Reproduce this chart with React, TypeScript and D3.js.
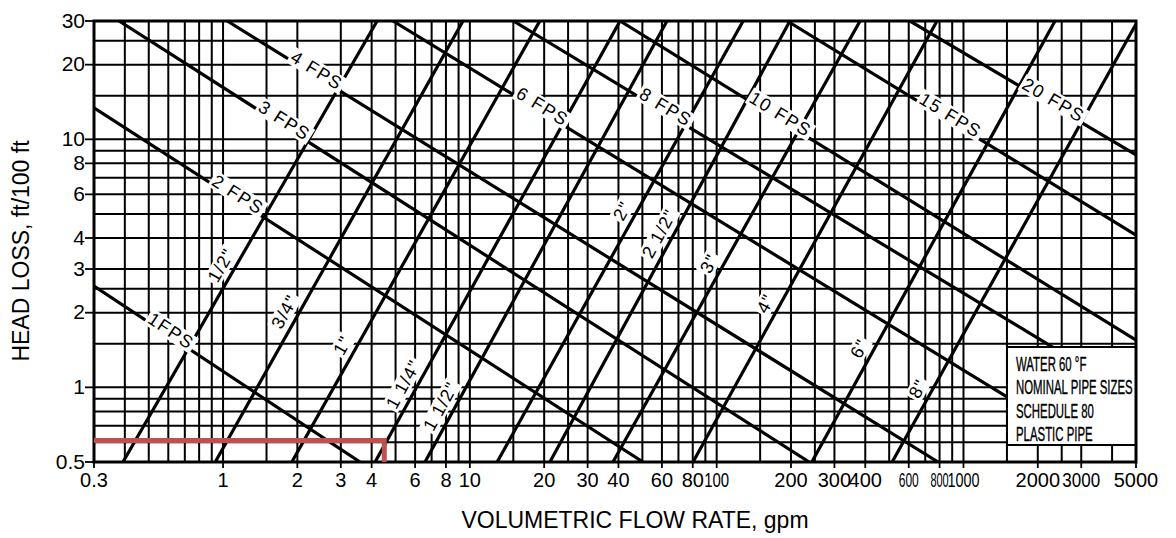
import React, { useEffect, useRef } from "react";
import * as d3 from "d3";

const W = 1176;
const H = 538;

// pipe size lines: [flow gpm, head ft/100ft] at the two ends
const pipeSizes = ['1/2"', '3/4"', '1"', '1 1/4"', '1 1/2"', '2"', '2 1/2"', '3"', '4"', '6"', '8"'];
const pipeLow = [[0.393, 0.5], [0.93, 0.5], [1.9, 0.5], [4.13, 0.5], [6.58, 0.5], [12.9, 0.5], [21.1, 0.5], [38, 0.5], [80.2, 0.5], [243, 0.5], [514, 0.5]];
const pipeHigh = [[4.21, 30], [9.38, 30], [19.2, 30], [40.6, 30], [62.9, 30], [128, 30], [198, 30], [381, 30], [781, 30], [2349, 30], [5000, 29.2]];
const pipeLabelHead = [2.92, 1.9, 1.39, 0.97, 0.79, 4.85, 3.93, 2.97, 2.05, 1.35, 0.93];

// velocity lines
const fpsNames = ["1FPS", "2 FPS", "3 FPS", "4 FPS", "6 FPS", "8 FPS", "10 FPS", "15 FPS", "20 FPS"];
const fpsStart = [[0.3, 2.56], [0.3, 13.4], [0.379, 30], [1.04, 30], [4.88, 30], [15, 30], [40.6, 30], [193, 30], [607, 30]];
const fpsEnd = [[3.59, 0.5], [50.3, 0.5], [237, 0.5], [789, 0.5], [1501, 0.915], [2306, 1.45], [5000, 1.55], [5000, 4.11], [5000, 8.65]];
const fpsLabelFlow = [0.6, 1.12, 1.73, 2.34, 19.2, 60.7, 177, 865, 2263];

const gridFlows = [0.4, 0.5, 0.6, 0.7, 0.8, 0.9, 1, 1.5, 2, 3, 4, 5, 6, 7, 8, 9, 10, 15, 20, 25, 30, 40, 50, 60, 70, 80, 90, 100, 150, 200, 250, 300, 400, 500, 600, 700, 800, 900, 1000, 1500, 2000, 2500, 3000, 4000];
const gridHeads = [0.6, 0.7, 0.8, 0.9, 1, 1.5, 2, 2.5, 3, 4, 5, 6, 7, 8, 9, 10, 15, 20, 25];
const flowTicks = ["0.3", "1", "2", "3", "4", "6", "8", "10", "20", "30", "40", "60", "80", "100", "200", "300", "400", "600", "800", "1000", "2000", "3000", "5000"];
const headTicks = ["0.5", "1", "2", "3", "4", "6", "8", "10", "20", "30"];

const noteLines = ["WATER 60 °F", "NOMINAL PIPE SIZES", "SCHEDULE 80", "PLASTIC PIPE"];
const markFlow = 4.5;
const markHead = 0.61;

const squeeze: Record<string, number> = { "100": 0.75, "600": 0.6, "800": 0.55, "1000": 0.72, "3000": 0.85 };
const FONT = "'Liberation Sans', Arial, sans-serif";

export default function App() {
  const ref = useRef<SVGSVGElement>(null);

  useEffect(() => {
    const svg = d3.select(ref.current);
    svg.selectAll("*").remove();

    const x = d3.scaleLog().domain([0.3, 5000]).range([94, 1136]);
    const y = d3.scaleLog().domain([0.5, 30]).range([462, 21]);
    const [x0, x1] = x.range();
    const [yb, yt] = y.range();

    svg.append("rect").attr("width", W).attr("height", H).attr("fill", "#fff");
    svg.append("defs").append("clipPath").attr("id", "plot")
      .append("rect").attr("x", x0).attr("y", yt).attr("width", x1 - x0).attr("height", yb - yt);

    // grid
    const grid = svg.append("g").attr("stroke", "#000").attr("stroke-width", 2);
    grid.selectAll("line.v").data(gridFlows).join("line").attr("class", "v")
      .attr("x1", d => x(d)).attr("x2", d => x(d)).attr("y1", yt).attr("y2", yb);
    grid.selectAll("line.h").data(gridHeads).join("line").attr("class", "h")
      .attr("y1", d => y(d)).attr("y2", d => y(d)).attr("x1", x0).attr("x2", x1);

    // diagonal lines
    const line = d3.line<number[]>().x(d => x(d[0])).y(d => y(d[1]));
    const diag = svg.append("g").attr("clip-path", "url(#plot)")
      .attr("stroke", "#000").attr("stroke-width", 3.2).attr("fill", "none");
    pipeSizes.forEach((_, i) => diag.append("path").attr("d", line([pipeLow[i], pipeHigh[i]])));
    fpsNames.forEach((_, i) => diag.append("path").attr("d", line([fpsStart[i], fpsEnd[i]])));

    // labels on lines
    const labels = svg.append("g").attr("font-family", FONT).attr("fill", "#000");
    const place = (text: string, px: number, py: number, ang: number, off: number, size: number, ls: number) => {
      const a = (ang * Math.PI) / 180;
      const cx = px + off * Math.sin(a);
      const cy = py - off * Math.cos(a);
      const g = labels.append("g").attr("transform", `translate(${cx},${cy}) rotate(${ang})`);
      const r = g.append("rect").attr("fill", "#fff");
      const t = g.append("text").attr("text-anchor", "middle").attr("dominant-baseline", "central")
        .attr("font-size", size).attr("letter-spacing", ls).text(text);
      const bb = (t.node() as SVGTextElement).getBBox();
      r.attr("x", bb.x - 2).attr("y", bb.y + 1).attr("width", bb.width + 4).attr("height", bb.height - 2);
    };
    const lg = Math.log10;
    fpsNames.forEach((name, i) => {
      const [q1, h1] = fpsStart[i];
      const [q2, h2] = fpsEnd[i];
      const q = fpsLabelFlow[i];
      const h = Math.pow(10, lg(h1) + ((lg(q) - lg(q1)) * (lg(h2) - lg(h1))) / (lg(q2) - lg(q1)));
      const ang = (Math.atan2(y(h2) - y(h1), x(q2) - x(q1)) * 180) / Math.PI;
      place(name, x(q), y(h), ang, 5, 18, 1.5);
    });
    pipeSizes.forEach((name, i) => {
      const [q1, h1] = pipeLow[i];
      const [q2, h2] = pipeHigh[i];
      const h = pipeLabelHead[i];
      const q = Math.pow(10, lg(q1) + ((lg(h) - lg(h1)) * (lg(q2) - lg(q1))) / (lg(h2) - lg(h1)));
      const ang = (Math.atan2(y(h2) - y(h1), x(q2) - x(q1)) * 180) / Math.PI;
      place(name, x(q), y(h), ang, 13, 18, 1);
    });

    // note box
    const nb = svg.append("g");
    nb.append("rect").attr("x", 1007).attr("y", 347).attr("width", x1 - 1007).attr("height", 98)
      .attr("fill", "#fff").attr("stroke", "#000").attr("stroke-width", 2);
    nb.selectAll("text").data(noteLines).join("text")
      .attr("transform", (_, i) => `translate(1016,${371 + i * 23.3}) scale(0.57,1)`)
      .attr("font-family", FONT).attr("font-size", 20).attr("stroke", "#000").attr("stroke-width", 0.4)
      .text(d => d);

    // frame
    svg.append("rect").attr("x", x0).attr("y", yt).attr("width", x1 - x0).attr("height", yb - yt)
      .attr("fill", "none").attr("stroke", "#000").attr("stroke-width", 3);

    // marker
    svg.append("path")
      .attr("d", `M${x0},${y(markHead)}H${x(markFlow)}V${yb}`)
      .attr("fill", "none").attr("stroke", "#c0504d").attr("stroke-width", 5);

    // ticks
    const ticks = svg.append("g").attr("stroke", "#000").attr("stroke-width", 1.8);
    ticks.selectAll("line.x").data(flowTicks).join("line").attr("class", "x")
      .attr("x1", d => x(+d)).attr("x2", d => x(+d)).attr("y1", yb).attr("y2", yb + 6);
    ticks.selectAll("line.y").data(headTicks).join("line").attr("class", "y")
      .attr("y1", d => y(+d)).attr("y2", d => y(+d)).attr("x1", x0 - 9).attr("x2", x0);

    svg.append("g").selectAll("text").data(flowTicks).join("text")
      .attr("transform", d => `translate(${x(+d)},487) scale(${squeeze[d] ?? 1},1)`)
      .attr("text-anchor", "middle").attr("font-family", FONT).attr("font-size", 20).text(d => d);
    svg.append("g").selectAll("text").data(headTicks).join("text")
      .attr("x", 85).attr("y", d => y(+d) - 1)
      .attr("text-anchor", "end").attr("dominant-baseline", "central")
      .attr("font-family", FONT).attr("font-size", 21).text(d => d);

    // axis titles
    svg.append("text").attr("x", 635).attr("y", 528).attr("text-anchor", "middle")
      .attr("font-family", FONT).attr("font-size", 23).text("VOLUMETRIC FLOW RATE, gpm");
    svg.append("text").attr("transform", "translate(29,251) rotate(-90)").attr("text-anchor", "middle")
      .attr("font-family", FONT).attr("font-size", 23).text("HEAD LOSS, ft/100 ft");
  }, []);

  return (
    <svg
      ref={ref}
      width={W}
      height={H}
      style={{ position: "absolute", left: 0, top: 0, display: "block" }}
    />
  );
}
